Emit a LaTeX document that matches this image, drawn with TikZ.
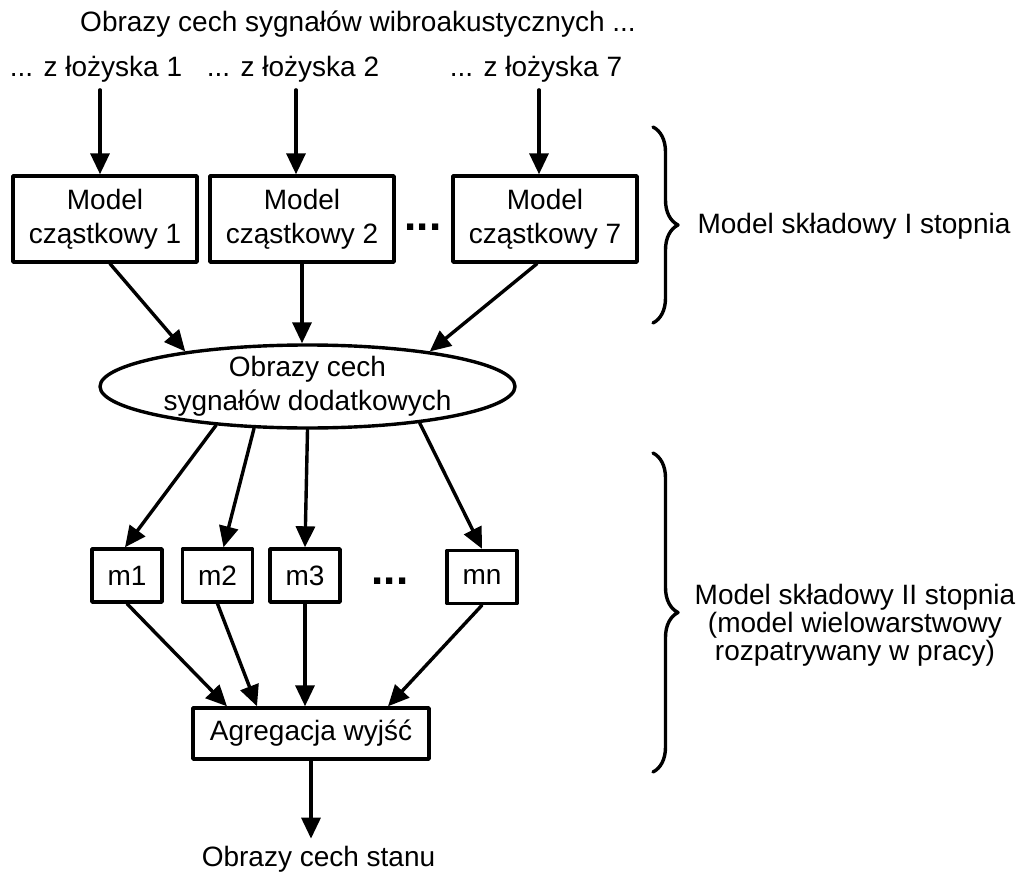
\documentclass[tikz,border=0pt]{standalone}
\usepackage{fontspec}
\setmainfont{Liberation Sans}
\usetikzlibrary{arrows.meta,shapes.geometric,decorations.pathreplacing}

\begin{document}
\begin{tikzpicture}[line cap=round,line join=round,>={Triangle[length=10.5pt,width=9.5pt]},x=0.5pt,y=-0.5pt,
  every node/.style={font=\fontsize{14pt}{17pt}\selectfont},
  submodel/.style={draw,line width=1.7pt,minimum width=92pt,minimum height=43pt,align=center,inner sep=0pt},
  mbox/.style={draw,line width=1.7pt,minimum width=35pt,minimum height=26.5pt,inner sep=0pt},
  flow/.style={->,line width=1.7pt},
  bigdots/.style={font=\fontsize{22pt}{22pt}\selectfont\bfseries,anchor=base},
  stage/.style={decorate,decoration={brace,amplitude=12.5pt},line width=1.7pt}]

\useasboundingbox (0,0) rectangle (1018,872);

% inputs
\node[anchor=base] (title) at (358,32) {Obrazy cech sygnałów wibroakustycznych ...};
\node[anchor=base] (src1) at (96,77) {... z łożyska 1};
\node[anchor=base] (src2) at (293,77) {... z łożyska 2};
\node[anchor=base] (src7) at (536,77) {... z łożyska 7};

% first stage
\node[submodel] (sub1) at (105,219) {Model\\cząstkowy 1};
\node[submodel] (sub2) at (302,219) {Model\\cząstkowy 2};
\node[submodel] (sub7) at (545,219) {Model\\cząstkowy 7};
\node[bigdots] (dotsA) at (423,230) {...};

\node[draw,ellipse,line width=1.7pt,minimum width=207.5pt,minimum height=41.5pt,inner xsep=0pt,inner ysep=-2pt,align=center] (extra) at (307.5,386.5) {Obrazy cech\\sygnałów dodatkowych};

% second stage
\node[mbox] (m1) at (127,575.5) {m1};
\node[mbox] (m2) at (217.5,575.5) {m2};
\node[mbox] (m3) at (305,575.5) {m3};
\node[mbox] (mn) at (482,577) {mn};
\node[bigdots] (dotsB) at (390,584) {...};

\node[draw,line width=1.7pt,minimum width=118pt,minimum height=25.5pt,inner sep=0pt] (agg) at (311,733.5) {Agregacja wyjść};
\node[anchor=base] (state) at (318.5,866) {Obrazy cech stanu};

% braces
\draw[stage] (653,127) -- (653,323);
\draw[stage] (653,453) -- (653,772);
\node[anchor=base] (stage1) at (854,234) {Model składowy I stopnia};
\node[align=center,font=\fontsize{14pt}{14pt}\selectfont] (stage2) at (855,625) {Model składowy II stopnia\\(model wielowarstwowy\\rozpatrywany w pracy)};

% arrows
\draw[flow] ([xshift=2pt]src1.south) -- ([xshift=2pt]src1.south |- sub1.north);
\draw[flow] ([xshift=1.5pt]src2.south) -- ([xshift=1.5pt]src2.south |- sub2.north);
\draw[flow] ([xshift=1.5pt]src7.south) -- ([xshift=1.5pt]src7.south |- sub7.north);

\draw[flow] ([xshift=2.5pt]sub1.south) -- (extra.164);
\draw[flow] (sub2.south) -- (sub2.south |- extra.north);
\draw[flow] ([xshift=-4pt]sub7.south) -- (extra.16);

\draw[flow] (extra.203) -- ([xshift=-1pt]m1.north);
\draw[flow] (extra.218) -- ([xshift=3pt]m2.north);
\draw[flow] (extra.south) -- (m3.north);
\draw[flow] (extra.342) -- (mn.north);

\draw[flow] (m1.south) -- ([xshift=-42pt]agg.north);
\draw[flow] (m2.south) -- ([xshift=-27pt]agg.north);
\draw[flow] (m3.south) -- (m3.south |- agg.north);
\draw[flow] (mn.south) -- ([xshift=38.5pt]agg.north);
\draw[flow] (agg.south) -- (agg.south |- state.north);

\end{tikzpicture}
\end{document}
